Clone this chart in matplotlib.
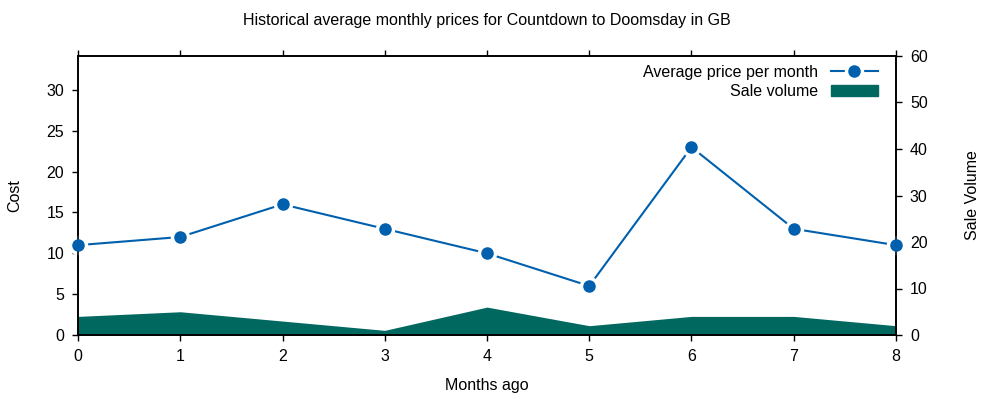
import numpy as np
import matplotlib
matplotlib.use("Agg")
import matplotlib.pyplot as plt
from matplotlib.patches import Patch

plt.rcParams['font.family'] = ['Liberation Sans', 'DejaVu Sans']

# data
months_ago = [0, 1, 2, 3, 4, 5, 6, 7, 8]
avg_price = [11, 12, 16, 13, 10, 6, 23, 13, 11]
sale_volume = [4, 5, 3, 1, 6, 2, 4, 4, 2]

price_col = '#0060ad'
vol_col = '#00685f'
fs = 11.5

fig = plt.figure(figsize=(10, 4), dpi=100)
ax = fig.add_axes([0.078, 0.1625, 0.818, 0.6975])
ax2 = ax.twinx()

# sale volume (right axis)
ax2.fill_between(months_ago, 0, sale_volume, color=vol_col, lw=0, zorder=1)
ax2.set_ylim(0, 60)
ax2.set_yticks(np.arange(0, 61, 10))
ax2.set_ylabel('Sale Volume', fontsize=fs, labelpad=27)

# average price (left axis), points with a white gap round them
ln, = ax.plot(months_ago, avg_price, color=price_col, lw=1.5, zorder=2)
halo, = ax.plot(months_ago, avg_price, 'o', color='white', ms=13, zorder=2.2, clip_on=False)
mk, = ax.plot(months_ago, avg_price, 'o', color=price_col, ms=8, zorder=3, clip_on=False)
ax.set_zorder(ax2.get_zorder() + 1)
ax.patch.set_visible(False)

ax.set_xlim(0, 8)
ax.set_ylim(0, 34.16)
ax.set_xticks(months_ago)
ax.set_yticks(np.arange(0, 31, 5))
ax.set_xlabel('Months ago', fontsize=fs, labelpad=10)
ax.set_ylabel('Cost', fontsize=fs, labelpad=17)
ax.set_title('Historical average monthly prices for Countdown to Doomsday in GB',
             fontsize=fs, pad=22)

for a in (ax, ax2):
    a.tick_params(labelsize=fs, direction='out', length=4, width=1, pad=6)
    for s in a.spines.values():
        s.set_linewidth(1.2)
ax.tick_params(top=True)
ax2.tick_params(top=False)

leg = ax.legend([(ln, halo, mk), Patch(color=vol_col)],
                ['Average price per month', 'Sale volume'],
                loc='upper right', bbox_to_anchor=(0.995, 1.019), frameon=False,
                markerfirst=False, fontsize=fs, handlelength=2.9,
                handletextpad=0.8, labelspacing=0.25, numpoints=1)

fig.savefig('out.png', dpi=100)
